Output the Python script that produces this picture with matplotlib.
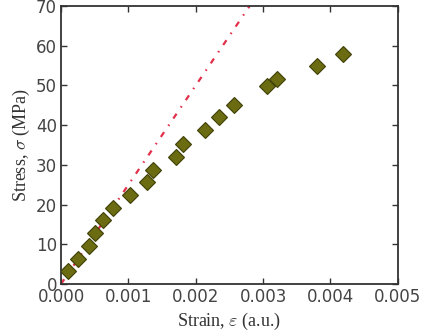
import matplotlib
matplotlib.use("Agg")
import matplotlib.pyplot as plt
import numpy as np

# measured points (strain, stress)
strain = [0.000104, 0.000248, 0.000415, 0.000509, 0.000628, 0.000767,
          0.00102, 0.00127, 0.00136, 0.00170, 0.00181, 0.00213, 0.00234,
          0.00257, 0.00306, 0.00320, 0.00380, 0.00418]
stress = [3.3, 6.4, 9.6, 12.8, 16.0, 19.2, 22.4, 25.6, 28.8, 32.1, 35.3,
          38.8, 42.1, 45.2, 49.8, 51.6, 54.8, 58.0]

# linear elastic fit (MPa per unit strain)
modulus = 25000.0
fit_strain = [0.0, 0.005]

plt.rcParams["mathtext.fontset"] = "cm"

fig = plt.figure(figsize=(4.21, 3.33), dpi=100)
ax = fig.add_axes([0.145, 0.147, 0.800, 0.835])

ax.plot(fit_strain, [modulus * s for s in fit_strain], color="#e2304a",
        linewidth=1.6, dashes=(2.6, 3.4, 0.7, 3.3), zorder=2)
ax.plot(strain, stress, linestyle="none", marker="D", markersize=7.8,
        markerfacecolor="#6b6b12", markeredgecolor="#3f3f08",
        markeredgewidth=0.8, zorder=3)

ax.set_xlim(0, 0.005)
ax.set_ylim(0, 70)
ax.set_xticks(np.arange(0, 0.0051, 0.001))
ax.set_xticklabels(["0.000", "0.001", "0.002", "0.003", "0.004", "0.005"])
ax.set_yticks(np.arange(0, 71, 10))
ax.tick_params(direction="in", top=True, right=True, length=4, width=1,
               labelsize=12, colors="#333333", labelcolor="#444444", pad=3)
for sp in ax.spines.values():
    sp.set_linewidth(1.3)
    sp.set_color("#333333")

ax.set_xlabel(r"Strain, $\varepsilon$ (a.u.)", family="Liberation Serif",
              fontsize=13, color="#333333", labelpad=3)
ax.set_ylabel(r"Stress, $\sigma$ (MPa)", family="Liberation Serif",
              fontsize=13, color="#333333", labelpad=3)

fig.savefig("out.png", dpi=100)
